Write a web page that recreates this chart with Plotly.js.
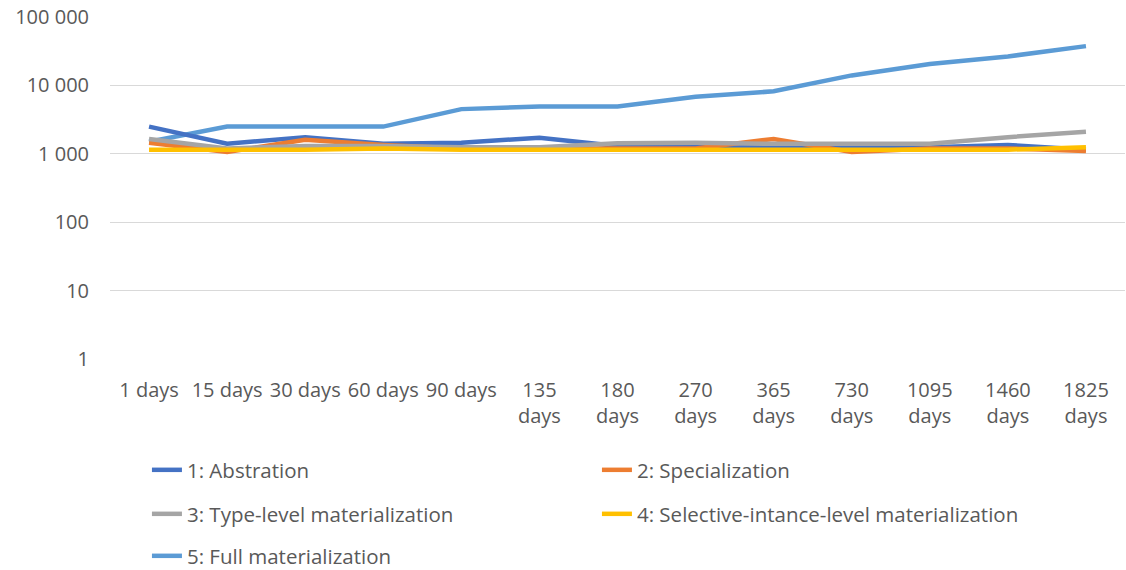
<!DOCTYPE html>
<html>
<head>
<meta charset="utf-8">
<script src="https://cdn.plot.ly/plotly-3.0.1.min.js"></script>
<style>html,body{margin:0;padding:0;background:#fff;}#chart{width:1126px;height:570px;}</style>
</head>
<body>
<div id="chart"></div>
<script>
const categories = ["1 days","15 days","30 days","60 days","90 days","135 days","180 days","270 days","365 days","730 days","1095 days","1460 days","1825 days"];
const tickLabels = ["1 days","15 days","30 days","60 days","90 days","135<br>days","180<br>days","270<br>days","365<br>days","730<br>days","1095<br>days","1460<br>days","1825<br>days"];
const seriesNames = ["1: Abstration","2: Specialization","3: Type-level materialization","4: Selective-intance-level materialization","5: Full materialization"];
const abstraction    = [2500,1400,1750,1400,1450,1720,1300,1250,1250,1250,1250,1350,1150];
const specialization = [1450,1060,1600,1350,1200,1200,1200,1200,1650,1060,1200,1200,1100];
const typeLevel      = [1650,1200,1300,1300,1250,1250,1430,1450,1400,1400,1400,1750,2100];
const selective      = [1150,1150,1150,1200,1150,1150,1150,1150,1150,1150,1150,1150,1250];
const fullMat        = [1500,2500,2500,2500,4500,4900,4900,6800,8200,14000,20500,26500,37500];
const yTickVals = [1,10,100,1000,10000,100000];
const yTickText = ["1","10","100","1 000","10 000","100 000"];

const colors = ["#4472C4","#ED7D31","#A5A5A5","#FFC000","#5B9BD5"];
const allSeries = [abstraction, specialization, typeLevel, selective, fullMat];
const legendIds = ["legend","legend","legend2","legend2","legend3"];
const font = "'Open Sans', sans-serif";

const traces = allSeries.map((s,i)=>({
  type:"scatter", mode:"lines", x:categories, y:s, name:seriesNames[i],
  line:{color:colors[i], width:4.5, shape:"linear"},
  legend:legendIds[i], hoverinfo:"x+y+name"
}));
const order = [4,0,1,2,3];
const data = order.map(i=>traces[i]);

const legendBase = {orientation:"h", xref:"container", yref:"container", xanchor:"left", yanchor:"middle",
  font:{family:font, size:20.5, color:"#595959"}, entrywidth:405, bgcolor:"rgba(0,0,0,0)", traceorder:"normal"};

const layout = {
  width:1126, height:570,
  margin:{l:110, r:1, t:17, b:211},
  paper_bgcolor:"#fff", plot_bgcolor:"#fff",
  showlegend:true,
  xaxis:{type:"category", range:[-0.5,12.5], tickvals:categories, ticktext:tickLabels, showgrid:false, showline:false, zeroline:false,
    ticks:"", tickfont:{family:font, size:20, color:"#595959"}, ticklabelstandoff:17, tickangle:0, fixedrange:true},
  yaxis:{type:"log", range:[0,5], tickvals:yTickVals, ticktext:yTickText, showgrid:true, gridcolor:"#D9D9D9", gridwidth:1,
    zeroline:false, showline:false, ticks:"", tickfont:{family:font, size:20, color:"#595959"}, ticklabelstandoff:20, fixedrange:true},
  legend:Object.assign({}, legendBase, {x:0.1305, y:(570-470)/570}),
  legend2:Object.assign({}, legendBase, {x:0.1305, y:(570-514)/570}),
  legend3:Object.assign({}, legendBase, {x:0.1305, y:(570-556)/570})
};
Plotly.newPlot("chart", data, layout, {displayModeBar:false});
</script>
</body>
</html>
